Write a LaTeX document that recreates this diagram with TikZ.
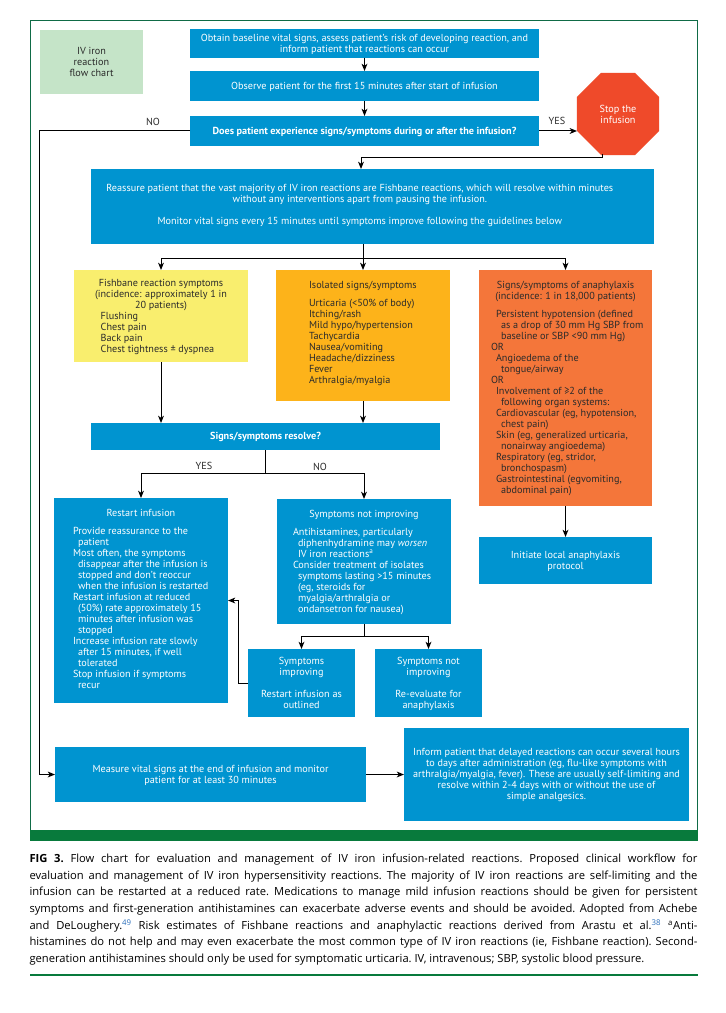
\documentclass[tikz,border=0pt]{standalone}
\usepackage{fontspec}
\setmainfont{PT Sans}
\newfontfamily\capfont{Open Sans}
\usetikzlibrary{arrows.meta,shapes.geometric}
\definecolor{cblue}{HTML}{0094D0}
\definecolor{clegend}{HTML}{C5E4C8}
\definecolor{cyellow}{HTML}{F9EE6E}
\definecolor{corange}{HTML}{FDB31A}
\definecolor{canaph}{HTML}{F4763A}
\definecolor{cstop}{HTML}{EF4A2A}
\definecolor{cframe}{HTML}{0F6B46}
\definecolor{cbar}{HTML}{087A3C}
\definecolor{cdark}{HTML}{2B2B2B}
\definecolor{clink}{HTML}{2A6EBB}
\newcommand{\boxfont}{\fontsize{7.65}{8.25}\selectfont}
% name, x1, y1, x2, y2, style, centre of first line, content
\newcommand{\BX}[8]{%
  \pgfmathsetmacro\bxx{(#2+#4)/2}%
  \pgfmathsetmacro\bxy{(#3+#5)/2}%
  \pgfmathsetmacro\bxw{(#4-#2)*0.75}%
  \pgfmathsetmacro\bxh{(#5-#3)*0.75}%
  \pgfmathsetmacro\bxo{(#7-#3)*0.75-3.2}%
  \node[#6] (#1) at (\bxx,\bxy) {\parbox[c][\bxh pt][t]{\bxw pt}{\boxfont\vspace*{\bxo pt}\leavevmode\strut\ignorespaces #8\par}};%
}
\newcommand{\LST}[1]{\raggedright\let\\\newline\leftskip=\dimexpr #1pt*3/4\relax}
\newcommand{\LI}[1]{\par\hangindent=3.75pt\hangafter=1 #1}
\tikzset{
  x=0.75pt,y=-0.75pt,
  bx/.style={inner sep=0pt,outer sep=0pt,fill=cblue,text=white},
  darkbx/.style={inner sep=0pt,outer sep=0pt,text=cdark},
  conn/.style={draw=black,line width=0.75pt},
  arr/.style={conn,-{Stealth[length=5.5pt,width=4.4pt,inset=1.6pt]}},
  lab/.style={inner sep=0pt,text=cdark,font=\fontsize{7.65}{8.25}\selectfont},
}
\begin{document}
\begin{tikzpicture}
\useasboundingbox (0,0) rectangle (725,1013);
\fill[white] (0,0) rectangle (725,1013);
% frame and rules
\draw[cframe,line width=0.75pt] (30.5,830) -- (30.5,20.5) -- (697,20.5) -- (697,830);
\fill[cbar] (30,830) rectangle (697.5,841);
\fill[cbar] (29.5,973.5) rectangle (698,976);
% boxes
\BX{legend}{40}{30}{143}{94}{darkbx,fill=clegend}{51}{\centering IV iron\\reaction\\flow chart}
\BX{b1}{190}{29}{539}{58}{bx}{38}{\centering Obtain baseline vital signs, assess patient’s risk of developing reaction, and\\inform patient that reactions can occur}
\BX{b2}{190}{71}{539}{101}{bx}{86}{\centering Observe patient for the first 15 minutes after start of infusion}
\BX{b3}{190}{116}{539}{146}{bx}{131}{\centering\bfseries Does patient experience signs/symptoms during or after the infusion?}
\node[regular polygon,regular polygon sides=8,minimum size=66.6pt,inner sep=0pt,outer sep=0pt,fill=cstop,text=white,align=center,font=\boxfont] (stop) at (618,114) {Stop the\\infusion};
\BX{b4}{91}{169}{654}{244}{bx}{188}{\centering\rightskip=19pt plus 1fil\relax Reassure patient that the vast majority of IV iron reactions are Fishbane reactions, which will resolve within minutes\\without any interventions apart from pausing the infusion.\\[8.25pt]Monitor vital signs every 15 minutes until symptoms improve following the guidelines below}
\BX{fish}{74}{270}{248}{362}{darkbx,fill=cyellow}{283}{\centering Fishbane reaction symptoms\\(incidence: approximately 1 in\\20 patients)\par\LST{26.7}Flushing\\Chest pain\\Back pain\\Chest tightness ± dyspnea}
\BX{iso}{276}{270}{450}{401}{darkbx,fill=corange}{285}{\LST{33}Isolated signs/symptoms\par\vspace{5pt}Urticaria (<50\% of body)\\Itching/rash\\Mild hypo/hypertension\\Tachycardia\\Nausea/vomiting\\Headache/dizziness\\Fever\\Arthralgia/myalgia}
\BX{ana}{479}{270}{652}{506}{darkbx,fill=canaph}{285}{\centering Signs/symptoms of anaphylaxis\\(incidence: 1 in 18,000 patients)\par\vspace{5pt}\LST{17}\LI{Persistent hypotension (defined\\as a drop of 30 mm Hg SBP from\\baseline or SBP <90 mm Hg)}\par{\leftskip=9pt OR\par}\LI{Angioedema of the\\tongue/airway}\par{\leftskip=9pt OR\par}\LI{Involvement of ≥2 of the\\following organ systems:}\LI{Cardiovascular (eg, hypotension,\\chest pain)}\LI{Skin (eg, generalized urticaria,\\nonairway angioedema)}\LI{Respiratory (eg, stridor,\\bronchospasm)}\LI{Gastrointestinal (egvomiting,\\abdominal pain)}}
\BX{signs}{91}{423}{440}{450}{bx}{436}{\centering\bfseries Signs/symptoms resolve?}
\BX{restart}{54}{498}{228}{703}{bx}{513}{\centering Restart infusion\par\vspace{5pt}\LST{19}\LI{Provide reassurance to the\\patient}\LI{Most often, the symptoms\\disappear after the infusion is\\stopped and don’t reoccur\\when the infusion is restarted}\LI{Restart infusion at reduced\\(50\%) rate approximately 15\\minutes after infusion was\\stopped}\LI{Increase infusion rate slowly\\after 15 minutes, if well\\tolerated}\LI{Stop infusion if symptoms\\recur}}
\BX{notimp}{277}{499}{451}{624}{bx}{514}{\centering Symptoms not improving\par\vspace{5pt}\LST{16}\LI{Antihistamines, particularly\\diphenhydramine may \textit{worsen}\\IV iron reactions\textsuperscript{a}}\LI{Consider treatment of isolates\\symptoms lasting >15 minutes\\(eg, steroids for\\myalgia/arthralgia or\\ondansetron for nausea)}}
\BX{sub1}{248}{649}{355}{717}{bx}{661}{\centering Symptoms\\improving\\[8.25pt]Restart infusion as\\outlined}
\BX{sub2}{375}{649}{482}{717}{bx}{661}{\centering Symptoms not\\improving\\[8.25pt]Re-evaluate for\\anaphylaxis}
\BX{init}{479}{537}{652}{584}{bx}{555}{\centering Initiate local anaphylaxis\\protocol}
\BX{measure}{55}{747}{366}{802}{bx}{769}{\centering Measure vital signs at the end of infusion and monitor\\patient for at least 30 minutes}
\BX{inform}{404}{728}{689}{821}{bx}{752}{\centering Inform patient that delayed reactions can occur several hours\\to days after administration (eg, flu-like symptoms with\\arthralgia/myalgia, fever). These are usually self-limiting and\\resolve within 2-4 days with or without the use of\\simple analgesics.}
% free connector points
\coordinate (nocorner) at (39.5,450);
\coordinate (stopexit) at (602,154);
\coordinate (stopbend) at (602,158);
\coordinate (stopin) at (361,169);
\coordinate (busa) at (363,258);
\coordinate (busb) at (265.5,473);
\coordinate (busc) at (364,636);
\coordinate (backbend) at (238,650);
% connectors
\draw[arr] (b1.south -| b2.north) -- (b2.north);
\draw[arr] (b2.south) -- (b3.north);
\draw[arr] (b3.east) -- (b3.east -| stop.west);
\draw[arr] (b3.west) -- (b3.west -| nocorner) |- (measure.west);
\draw[arr] (stopexit) -- (stopbend) -| (stopin);
\draw[conn] (b4.south -| busa) -- (busa);
\draw[arr] (busa) -| (fish.north);
\draw[arr] (busa) -| (ana.north);
\draw[arr] (busa) -- (iso.north);
\draw[arr] (fish.south) -- (fish.south |- signs.north);
\draw[arr] (iso.south) -- (iso.south |- signs.north);
\draw[conn] (signs.south -| busb) -- (busb);
\draw[arr] (busb) -| (restart.north);
\draw[arr] (busb) -| (notimp.north);
\draw[conn] (notimp.south) -- (busc);
\draw[arr] (busc) -| (sub1.north);
\draw[arr] (busc) -| (sub2.north);
\draw[arr] (sub1.west) -- (sub1.west -| backbend) |- (restart.east);
\draw[arr] (ana.south) -- (init.north);
\draw[arr] (measure.east) -- (inform.west);
% branch labels
\node[lab] (lno) at (153,122) {NO};
\node[lab] (lyes) at (557,121) {YES};
\node[lab] (lyes2) at (204,466) {YES};
\node[lab] (lno2) at (320,467) {NO};
% caption
\node[inner sep=0pt,outer sep=0pt,anchor=north west,text=black] (caption) at (29.5,854) {\parbox[t]{501pt}{\capfont\frenchspacing\fontsize{8.4}{12.5}\selectfont
\hbox to 501pt{\textbf{FIG 3.} Flow chart for evaluation and management of IV iron infusion-related reactions. Proposed clinical workflow for}
\hbox to 501pt{evaluation and management of IV iron hypersensitivity reactions. The majority of IV iron reactions are self-limiting and the}
\hbox to 501pt{infusion can be restarted at a reduced rate. Medications to manage mild infusion reactions should be given for persistent}
\hbox to 501pt{symptoms and first-generation antihistamines can exacerbate adverse events and should be avoided. Adopted from Achebe}
\hbox to 501pt{and DeLoughery.\textsuperscript{\textcolor{clink}{49}} Risk estimates of Fishbane reactions and anaphylactic reactions derived from Arastu et al.\textsuperscript{\textcolor{clink}{38}} \textsuperscript{a}Anti-}
\hbox to 501pt{histamines do not help and may even exacerbate the most common type of IV iron reactions (ie, Fishbane reaction). Second-}
\hbox{generation antihistamines should only be used for symptomatic urticaria. IV, intravenous; SBP, systolic blood pressure.}
}};
\end{tikzpicture}
\end{document}
